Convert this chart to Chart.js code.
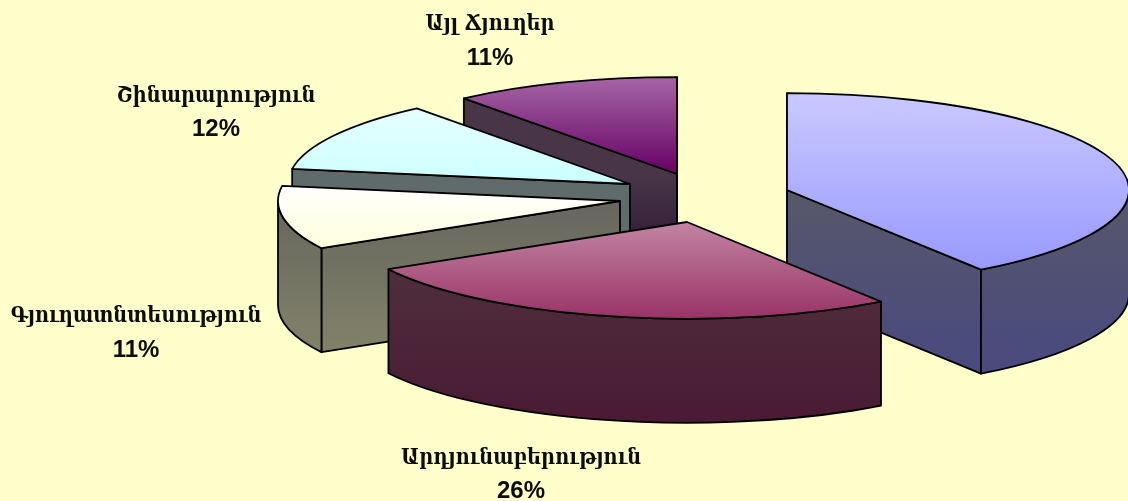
<!DOCTYPE html>
<html>
<head>
<meta charset="utf-8">
<style>html,body{margin:0;padding:0;background:#ffffcc}canvas{display:block}</style>
<script src="https://cdn.jsdelivr.net/npm/chart.js@4"></script>
</head>
<body>
<canvas id="c" width="1128" height="501"></canvas>
<script>
const categories = ["", "Արդյունաբերություն", "Գյուղատնտեսություն", "Շինարարություն", "Այլ Ճյուղեր"];
const shares = [40.4, 26.49, 10.6, 11.8, 10.71];
const sliceShift = [[83, -7], [-17, 25], [-84, 4], [-74, -13], [-27, -23]];
const topColors = [["#c9c9ff", "#9999ff"], ["#c285a3", "#993366"], ["#ffffff", "#ffffdc"], ["#e6ffff", "#ccffff"], ["#a566a5", "#660066"]];
const wallColors = [["#57576a", "#49497f"], ["#50353f", "#4a1a33"], ["#66665e", "#82826a"], ["#5f6b6b", "#5f6f6f"], ["#483648", "#2a1030"]];
const labelSpots = [null, [521, 464, 498], [136, 322, 357], [216, 102, 136], [490, 30, 65]];

const CX = 704, CY = 197, R = 342, TILT = 0.283, DEPTH = 104;
const ARM_FONT = 'bold 23px "DejaVu Serif"';
const ARM_SQUEEZE = 0.84;
const PCT_FONT = 'bold 24px "Liberation Sans"';

function sliceRange(i) {
  const total = shares.reduce((a, b) => a + b, 0);
  let s = 0;
  for (let k = 0; k < i; k++) s += shares[k];
  return [s / total * Math.PI * 2, (s + shares[i]) / total * Math.PI * 2];
}
function localYRange(i, r) {
  const [s, e] = sliceRange(i);
  const ys = [0, -Math.cos(s) * r, -Math.cos(e) * r];
  if (s <= Math.PI && e >= Math.PI) ys.push(r);
  return [Math.min(...ys), Math.max(...ys)];
}
function topFill(ctx) {
  const chart = ctx.chart, i = ctx.dataIndex, a = chart.chartArea;
  if (!a) return topColors[i][1];
  const mid = (a.top + a.bottom) / 2;
  const [y0, y1] = localYRange(i, R);
  const g = chart.ctx.createLinearGradient(0, mid + y0, 0, mid + y1);
  g.addColorStop(0, topColors[i][0]);
  g.addColorStop(1, topColors[i][1]);
  return g;
}

const pie3d = {
  id: 'pie3d',
  beforeDatasetsDraw(chart) {
    const ctx = chart.ctx;
    const arcs = chart.getDatasetMeta(0).data;
    const items = arcs.map((arc, i) => ({
      arc, i,
      x: CX + sliceShift[i][0],
      y: CY + sliceShift[i][1],
      r: arc.outerRadius, a0: arc.startAngle, a1: arc.endAngle
    })).sort((p, q) => p.y - q.y);

    for (const it of items) {
      const { arc, i, x, y, r, a0, a1 } = it;
      const ry = r * TILT;
      const [ly0, ly1] = localYRange(i, r);
      const wall = ctx.createLinearGradient(0, y, 0, y + ly1 * TILT + DEPTH);
      wall.addColorStop(0, wallColors[i][0]);
      wall.addColorStop(1, wallColors[i][1]);
      ctx.save();
      ctx.fillStyle = wall;
      ctx.strokeStyle = '#000';
      ctx.lineWidth = 1.8;
      ctx.lineJoin = 'round';
      const faces = [];
      if (Math.cos(a0) <= 0.001) faces.push(a0);
      if (Math.cos(a1) >= -0.001) faces.push(a1);
      for (const a of faces) {
        const ex = x + Math.cos(a) * r, ey = y + Math.sin(a) * ry;
        ctx.beginPath();
        ctx.moveTo(x, y);
        ctx.lineTo(ex, ey);
        ctx.lineTo(ex, ey + DEPTH);
        ctx.lineTo(x, y + DEPTH);
        ctx.closePath();
        ctx.fill();
        ctx.stroke();
      }
      const b0 = Math.max(a0, 0), b1 = Math.min(a1, Math.PI);
      if (b1 > b0) {
        ctx.beginPath();
        ctx.ellipse(x, y, r, ry, 0, b0, b1);
        ctx.ellipse(x, y + DEPTH, r, ry, 0, b1, b0, true);
        ctx.closePath();
        ctx.fill();
        ctx.stroke();
      }
      ctx.restore();

      // the library paints the top face, flattened into the pie's tilt
      ctx.save();
      ctx.translate(x, y);
      ctx.scale(1, TILT);
      ctx.translate(-arc.x, -arc.y);
      arc.draw(ctx);
      ctx.restore();

      ctx.save();
      ctx.strokeStyle = '#000';
      ctx.lineWidth = 1.8;
      ctx.lineJoin = 'round';
      ctx.beginPath();
      ctx.moveTo(x, y);
      ctx.ellipse(x, y, r, ry, 0, a0, a1);
      ctx.closePath();
      ctx.stroke();
      ctx.restore();
    }
    return false;
  },
  afterDraw(chart) {
    const ctx = chart.ctx;
    ctx.save();
    ctx.fillStyle = '#0d0d0d';
    ctx.textAlign = 'center';
    ctx.textBaseline = 'alphabetic';
    categories.forEach((name, i) => {
      const spot = labelSpots[i];
      if (!spot) return;
      ctx.save();
      ctx.translate(spot[0], spot[1]);
      ctx.scale(ARM_SQUEEZE, 1);
      ctx.font = ARM_FONT;
      ctx.fillText(name, 0, 0);
      ctx.restore();
      ctx.font = PCT_FONT;
      ctx.fillText(Math.round(shares[i]) + '%', spot[0], spot[2]);
    });
    ctx.restore();
  }
};

new Chart(document.getElementById('c'), {
  type: 'pie',
  data: { labels: categories, datasets: [{ data: shares, backgroundColor: topFill, borderWidth: 0 }] },
  options: {
    responsive: false,
    animation: false,
    radius: R,
    layout: { padding: 0 },
    plugins: { legend: { display: false }, tooltip: { enabled: false } },
    events: []
  },
  plugins: [pie3d]
});
</script>
</body>
</html>
